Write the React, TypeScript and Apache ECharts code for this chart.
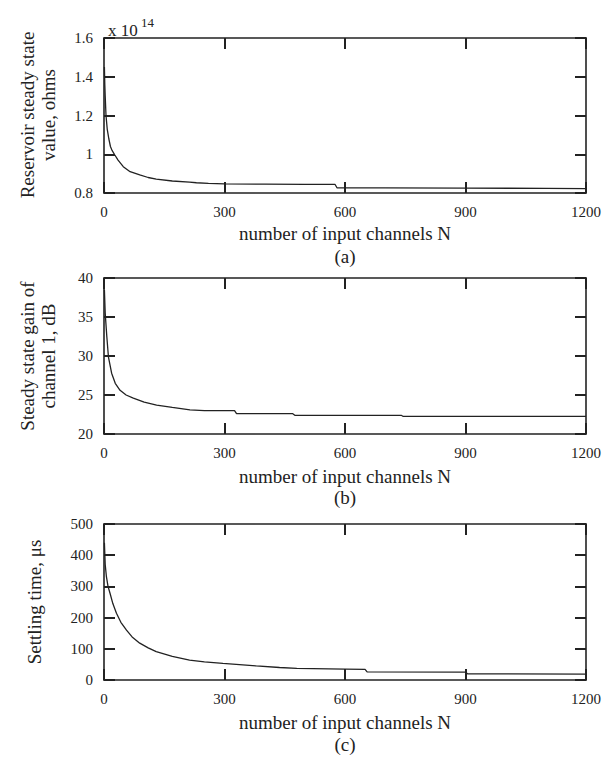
import React, { useEffect, useRef } from "react";
import * as echarts from "echarts";

// ---- data ----
const X_TICKS = [0, 300, 600, 900, 1200];

// (a) reservoir steady state value (x 1e14 ohms)
const N_A = [1, 2, 3, 5, 8, 12, 16, 20, 27, 35, 48, 65, 89, 110, 130, 170, 213, 230, 260, 300, 400, 500, 575, 580, 700, 900, 1100, 1200];
const VAL_A = [1.45, 1.36, 1.3, 1.2, 1.13, 1.08, 1.04, 1.02, 0.996, 0.97, 0.936, 0.91, 0.893, 0.88, 0.872, 0.862, 0.856, 0.853, 0.85, 0.847, 0.846, 0.845, 0.845, 0.827, 0.826, 0.825, 0.824, 0.823];

// (b) steady state gain of channel 1, dB
const N_B = [1, 3, 7, 11, 19, 28, 40, 55, 73, 100, 131, 170, 214, 250, 325, 330, 470, 475, 740, 745, 1200];
const VAL_B = [38.5, 35.5, 32.5, 29.9, 27.8, 26.5, 25.6, 25.0, 24.6, 24.1, 23.7, 23.4, 23.1, 23.0, 23.0, 22.6, 22.6, 22.4, 22.4, 22.25, 22.25];

// (c) settling time, us
const N_C = [1, 3, 6, 10, 15, 22, 31, 42, 56, 70, 89, 110, 130, 170, 213, 250, 296, 379, 437, 480, 600, 650, 655, 900, 905, 1200];
const VAL_C = [440, 370, 331, 300, 278, 245, 214, 185, 160, 138, 118, 103, 91, 76, 64, 58, 53, 45, 40, 37, 35, 34, 26, 25, 20, 19];

const Y_A = { min: 0.8, max: 1.6, interval: 0.2 };
const Y_B = { min: 20, max: 40, interval: 5 };
const Y_C = { min: 0, max: 500, interval: 100 };

const FONT = "Liberation Serif";
const INK = "#222";

export default function App() {
  const ref = useRef<HTMLDivElement>(null);
  useEffect(() => {
    if (!ref.current) return;
    const chart = echarts.init(ref.current, undefined, { renderer: "svg" });

    const grids = [
      { left: 104, top: 38, width: 483, height: 155 },
      { left: 104, top: 278, width: 483, height: 156 },
      { left: 104, top: 524, width: 483, height: 156 },
    ];
    const ys = [Y_A, Y_B, Y_C];

    const tick = () => ({ show: true, inside: true, length: 11, lineStyle: { color: INK, width: 2 } });
    const line = () => ({ show: true, onZero: false, lineStyle: { color: INK, width: 1.6 } });
    const fmt = (v: number) => String(+v.toFixed(2));

    const xAxis: any[] = [];
    const yAxis: any[] = [];
    grids.forEach((_, i) => {
      xAxis.push({
        type: "value", gridIndex: i, position: "bottom", min: X_TICKS[0], max: X_TICKS[X_TICKS.length - 1], interval: 300,
        axisLine: line(), axisTick: tick(), splitLine: { show: false },
        axisLabel: { color: INK, fontFamily: FONT, fontSize: 15, margin: 11, formatter: fmt },
      });
      xAxis.push({
        type: "value", gridIndex: i, position: "top", min: X_TICKS[0], max: X_TICKS[X_TICKS.length - 1], interval: 300,
        axisLine: line(), axisTick: tick(), splitLine: { show: false }, axisLabel: { show: false },
      });
      yAxis.push({
        type: "value", gridIndex: i, position: "left", min: ys[i].min, max: ys[i].max, interval: ys[i].interval,
        axisLine: line(), axisTick: tick(), splitLine: { show: false },
        axisLabel: { color: INK, fontFamily: FONT, fontSize: 15, margin: 11, formatter: fmt },
      });
      yAxis.push({
        type: "value", gridIndex: i, position: "right", min: ys[i].min, max: ys[i].max, interval: ys[i].interval,
        axisLine: line(), axisTick: tick(), splitLine: { show: false }, axisLabel: { show: false },
      });
    });

    const mk = (n: number[], v: number[]) => n.map((x, i) => [x, v[i]]);
    const series = [mk(N_A, VAL_A), mk(N_B, VAL_B), mk(N_C, VAL_C)].map((d, i) => ({
      type: "line", xAxisIndex: i * 2, yAxisIndex: i * 2, data: d, showSymbol: false,
      lineStyle: { color: INK, width: 1.3 }, silent: true,
    }));

    const txt = (x: number, y: number, text: string, size = 19, rot = 0, align = "center") => ({
      type: "text", x, y, rotation: rot, silent: true,
      style: { text, fontFamily: FONT, fontSize: size, fill: INK, textAlign: align, textVerticalAlign: "middle" },
    });
    const R = Math.PI / 2;
    const graphic = [
      txt(108, 30, "x 10", 17, 0, "left"),
      txt(141, 22, "14", 13, 0, "left"),
      txt(27, 115, "Reservoir steady state", 19, R),
      txt(48, 115, "value, ohms", 19, R),
      txt(345, 233, "number of input channels N"),
      txt(345, 256, "(a)"),
      txt(27, 356, "Steady state gain of", 19, R),
      txt(48, 356, "channel 1, dB", 19, R),
      txt(345, 476, "number of input channels N"),
      txt(345, 497, "(b)"),
      txt(34, 602, "Settling time, \u03bcs", 19, R),
      txt(345, 722, "number of input channels N"),
      txt(345, 744, "(c)"),
    ];

    chart.setOption({
      animation: false,
      backgroundColor: "#fff",
      grid: grids,
      xAxis,
      yAxis,
      series,
      graphic,
    });
    return () => chart.dispose();
  }, []);
  return <div ref={ref} style={{ position: "absolute", left: 0, top: 0, width: 604, height: 757 }} />;
}
